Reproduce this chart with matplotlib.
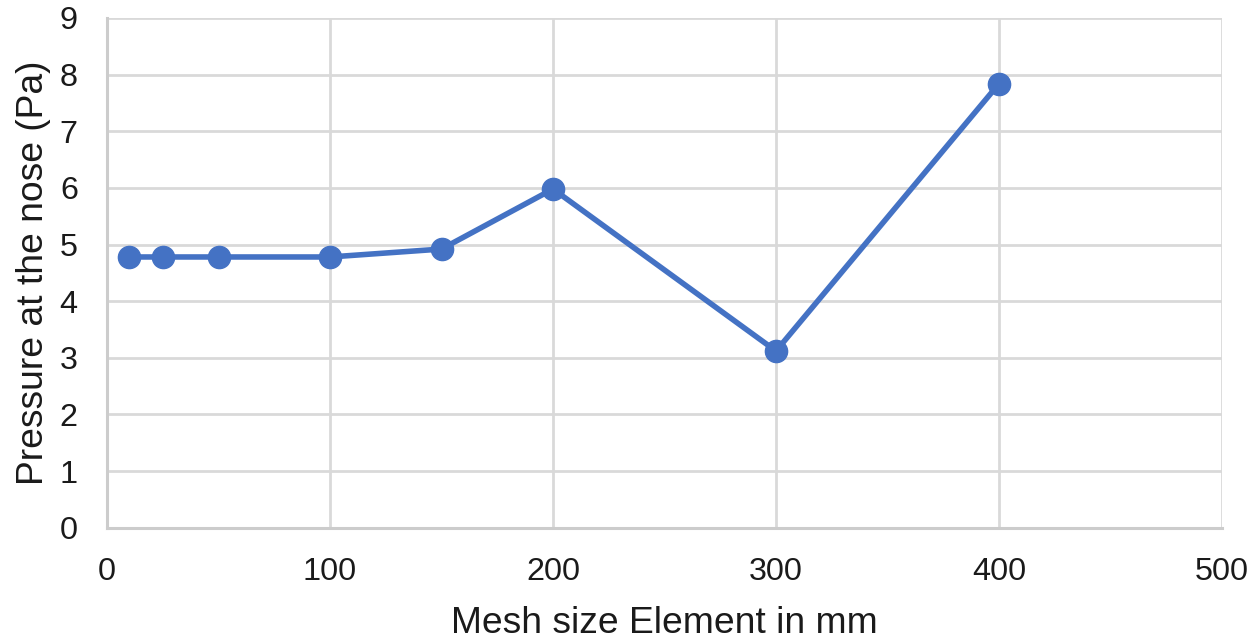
import matplotlib
matplotlib.use("Agg")
import matplotlib.pyplot as plt

mesh_size = [10, 25, 50, 100, 150, 200, 300, 400]
pressure = [4.78, 4.78, 4.78, 4.78, 4.92, 5.98, 3.12, 7.84]
x_ticks = [0, 100, 200, 300, 400, 500]
y_ticks = [0, 1, 2, 3, 4, 5, 6, 7, 8, 9]

plt.rcParams['font.family'] = ['Liberation Sans', 'DejaVu Sans']

fig = plt.figure(figsize=(12.5, 6.4), dpi=100)
ax = fig.add_axes([0.0856, 0.1755, 0.892, 0.7964])

ax.plot(mesh_size, pressure, color='#4472c4', linewidth=4.0, marker='o',
        markersize=16, zorder=3, solid_capstyle='round')

ax.set_xlim(0, 500)
ax.set_ylim(0, 9)
ax.set_xticks(x_ticks)
ax.set_yticks(y_ticks)
ax.grid(True, color='#d9d9d9', linewidth=2.0)
ax.set_axisbelow(True)
for s in ['top', 'right']:
    ax.spines[s].set_visible(False)
for s in ['left', 'bottom']:
    ax.spines[s].set_color('#cccccc')
    ax.spines[s].set_linewidth(2.2)
ax.tick_params(length=0, labelsize=23.3, colors='#1a1a1a')
ax.tick_params(axis='x', pad=21)
ax.tick_params(axis='y', pad=21)

ax.set_xlabel('Mesh size Element in mm', fontsize=26.8, color='#1a1a1a', labelpad=14)
ax.set_ylabel('Pressure at the nose (Pa)', fontsize=26.8, color='#1a1a1a', labelpad=6)

fig.savefig('out.png', dpi=100)
